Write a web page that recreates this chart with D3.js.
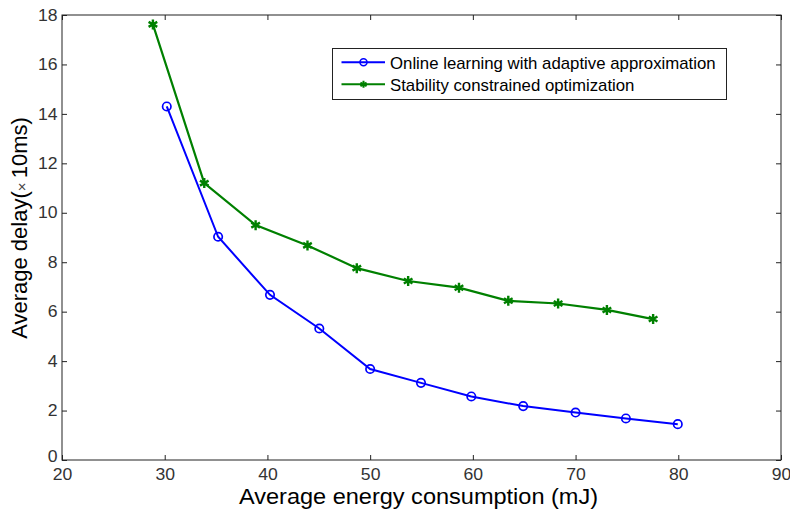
<!DOCTYPE html>
<html>
<head>
<meta charset="utf-8">
<script src="https://cdn.jsdelivr.net/npm/d3@7"></script>
<style>
  body { margin: 0; background: #fff; }
  svg { font-family: Arial, "Liberation Sans", sans-serif; }
</style>
</head>
<body>
<div id="chart"></div>
<script>
const onlineX = [30.2, 35.2, 40.25, 45.05, 50.0, 54.95, 59.85, 64.9, 70.0, 74.9, 79.95]
const onlineY = [14.3, 9.03, 6.68, 5.32, 3.68, 3.12, 2.57, 2.18, 1.92, 1.68, 1.45]
const stableX = [28.85, 33.85, 38.85, 43.9, 48.7, 53.7, 58.65, 63.45, 68.3, 73.05, 77.55]
const stableY = [17.62, 11.2, 9.5, 8.68, 7.76, 7.24, 6.97, 6.44, 6.33, 6.07, 5.7]
const xTicks = [20, 30, 40, 50, 60, 70, 80, 90]
const yTicks = [0, 2, 4, 6, 8, 10, 12, 14, 16, 18]
const seriesNames = ["Online learning with adaptive approximation", "Stability constrained optimization"]

const width = 790
const height = 510
const boxLeft = 62, boxRight = 781, boxTop = 15, boxBottom = 460

const svg = d3.select("#chart").append("svg")
  .attr("width", width).attr("height", height)

const x = d3.scaleLinear().domain([20, 90]).range([boxLeft, boxRight])
const y = d3.scaleLinear().domain([0, 18]).range([boxBottom, boxTop])

// box
svg.append("rect")
  .attr("x", boxLeft).attr("y", boxTop)
  .attr("width", boxRight - boxLeft).attr("height", boxBottom - boxTop)
  .attr("fill", "none").attr("stroke", "#222").attr("stroke-width", 1)

// axes with inward ticks (matlab style)
const tick = 5
const gx = svg.append("g").attr("transform", `translate(0,${boxBottom})`)
  .call(d3.axisBottom(x).tickValues(xTicks).tickSize(-tick).tickPadding(0).tickSizeOuter(0))
const gxTop = svg.append("g").attr("transform", `translate(0,${boxTop})`)
  .call(d3.axisTop(x).tickValues(xTicks).tickSize(-tick).tickFormat("").tickSizeOuter(0))
const gy = svg.append("g").attr("transform", `translate(${boxLeft},0)`)
  .call(d3.axisLeft(y).tickValues(yTicks).tickSize(-tick).tickPadding(4).tickSizeOuter(0))
const gyRight = svg.append("g").attr("transform", `translate(${boxRight},0)`)
  .call(d3.axisRight(y).tickValues(yTicks).tickSize(-tick).tickFormat("").tickSizeOuter(0))

;[gx, gxTop, gy, gyRight].forEach((g) => {
  g.select(".domain").remove()
  g.selectAll(".tick line").attr("stroke", "#222")
  g.selectAll(".tick text").attr("font-size", 16).attr("fill", "#333")
    .attr("font-family", "Arial, 'Liberation Sans', sans-serif")
    .attr("transform", "scale(1.1,1)")
})
gx.selectAll(".tick text").attr("y", 20).attr("dy", 0)
// lift the "0" a little so it clears the "20" below it
gy.selectAll(".tick text").filter((d) => d === 0).attr("dy", "0.08em")

// axis titles
svg.append("text")
  .attr("transform", `translate(${(boxLeft + boxRight) / 2 - 3},504) scale(1.07,1)`)
  .attr("text-anchor", "middle").attr("font-size", 22).attr("fill", "#000")
  .text("Average energy consumption (mJ)")

const yl = svg.append("text")
  .attr("transform", `translate(27,228) rotate(-90)`)
  .attr("text-anchor", "middle").attr("font-size", 22).attr("fill", "#000")
yl.append("tspan").text("Average delay(")
yl.append("tspan").attr("font-size", 15).attr("fill", "#444").text("\u00d7 ")
yl.append("tspan").text("10ms)")

// lines
const line = d3.line().x((d) => x(d[0])).y((d) => y(d[1]))
const onlineData = onlineX.map((v, i) => [v, onlineY[i]])
const stableData = stableX.map((v, i) => [v, stableY[i]])

svg.append("path").datum(stableData).attr("d", line)
  .attr("fill", "none").attr("stroke", "#008000").attr("stroke-width", 2.2)
svg.append("path").datum(onlineData).attr("d", line)
  .attr("fill", "none").attr("stroke", "#0000ff").attr("stroke-width", 2)

const starType = d3.symbolAsterisk || d3.symbolCross
const star = d3.symbol().type(starType).size(70)

svg.append("g").selectAll("path")
  .data(stableData).join("path")
  .attr("transform", (d) => `translate(${x(d[0])},${y(d[1])})`)
  .attr("d", star).attr("fill", "#008000").attr("stroke", "#008000").attr("stroke-width", 2.4)

svg.append("g").selectAll("circle")
  .data(onlineData).join("circle")
  .attr("cx", (d) => x(d[0])).attr("cy", (d) => y(d[1])).attr("r", 4.2)
  .attr("fill", "none").attr("stroke", "#0000ff").attr("stroke-width", 1.7)

// legend
const lg = svg.append("g")
lg.append("rect").attr("x", 332.5).attr("y", 48.5).attr("width", 394).attr("height", 51)
  .attr("fill", "#fff").attr("stroke", "#222").attr("stroke-width", 1)
const colors = ["#0000ff", "#008000"]
seriesNames.forEach((name, i) => {
  const ly = 62.3 + i * 22
  lg.append("line").attr("x1", 341.5).attr("x2", 385).attr("y1", ly).attr("y2", ly)
    .attr("stroke", colors[i]).attr("stroke-width", 2)
  if (i === 0) {
    lg.append("circle").attr("cx", 363.5).attr("cy", ly).attr("r", 3.5)
      .attr("fill", "none").attr("stroke", colors[i]).attr("stroke-width", 1.5)
  } else {
    lg.append("path").attr("transform", `translate(363.5,${ly})`)
      .attr("d", d3.symbol().type(starType).size(35))
      .attr("fill", colors[i]).attr("stroke", colors[i]).attr("stroke-width", 2)
  }
  lg.append("text").attr("transform", `translate(390,${ly + 7}) scale(1.05,1)`)
    .attr("font-size", 16).attr("fill", "#000").text(name)
})
</script>
</body>
</html>
